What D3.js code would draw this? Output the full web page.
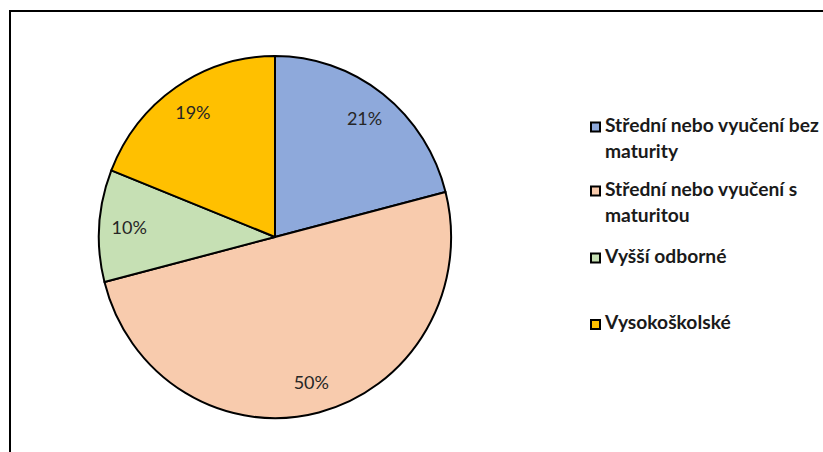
<!DOCTYPE html>
<html>
<head>
<meta charset="utf-8">
<script src="https://cdn.jsdelivr.net/npm/d3@7"></script>
<style>
  html, body { margin: 0; padding: 0; background: #fff; }
  svg { display: block; }
</style>
</head>
<body>
<svg id="chart" width="823" height="452"></svg>
<script>
// Education levels and their shares (%)
const categories = [
  "Střední nebo vyučení bez maturity",
  "Střední nebo vyučení s maturitou",
  "Vyšší odborné",
  "Vysokoškolské"
];
const values = [21, 50, 10, 19];
const legendLines = [
  ["Střední nebo vyučení bez", "maturity"],
  ["Střední nebo vyučení s", "maturitou"],
  ["Vyšší odborné"],
  ["Vysokoškolské"]
];
const colors = ["#8EA9DB", "#F8CBAD", "#C6E0B4", "#FFC000"];

const svg = d3.select("#chart");
const font = "Lato, 'Open Sans', sans-serif";

// Chart frame
svg.append("rect")
  .attr("x", 10).attr("y", 11)
  .attr("width", 830).attr("height", 460)
  .attr("fill", "#fff")
  .attr("stroke", "#000")
  .attr("stroke-width", 2);

// Pie: drawn on a unit radius, then stretched slightly taller than wide
const cx = 275, cy = 237, rx = 176, ry = 181;
const data = categories.map((c, i) => ({ cat: c, value: values[i], color: colors[i] }));

const pie = d3.pie().value(d => d.value).sort(null);
const arc = d3.arc().innerRadius(0).outerRadius(1);
const labelR = 0.83;
const labelArc = d3.arc().innerRadius(labelR).outerRadius(labelR);
const arcs = pie(data);

const g = svg.append("g").attr("transform", `translate(${cx},${cy})`);
g.append("g")
  .attr("transform", `scale(${rx},${ry})`)
  .selectAll("path.slice")
  .data(arcs)
  .join("path")
  .attr("class", "slice")
  .attr("d", arc)
  .attr("fill", d => d.data.color)
  .attr("stroke", "#000")
  .attr("stroke-width", 2)
  .attr("vector-effect", "non-scaling-stroke")
  .attr("stroke-linejoin", "round");

g.selectAll("text.pct")
  .data(arcs)
  .join("text")
  .attr("class", "pct")
  .attr("transform", d => {
    const [x, y] = labelArc.centroid(d);
    return `translate(${x * rx},${y * ry})`;
  })
  .attr("text-anchor", "middle")
  .attr("dy", "0.36em")
  .attr("font-family", font)
  .attr("font-size", 18)
  .attr("fill", "#262626")
  .text(d => d.data.value + "%");

// Legend
const legendX = 590;
const baselines = [131.5, 195.5, 262.5, 329];
const lineH = 26;
const lg = svg.append("g");
data.forEach((d, i) => {
  const item = lg.append("g");
  item.append("rect")
    .attr("x", legendX + 1).attr("y", baselines[i] - 9)
    .attr("width", 9).attr("height", 9)
    .attr("fill", d.color)
    .attr("stroke", "#000")
    .attr("stroke-width", 2);
  legendLines[i].forEach((t, j) => {
    item.append("text")
      .attr("class", "legend-text")
      .attr("x", legendX + 15)
      .attr("y", baselines[i] + j * lineH)
      .attr("font-family", font)
      .attr("font-weight", "bold")
      .attr("font-size", 17)
      .attr("fill", "#1a1a1a")
      .text(t);
  });
});

// Fit the legend font so the longest line spans the space to the right edge
const texts = lg.selectAll("text.legend-text");
const widest = d3.max(texts.nodes(), n => n.getComputedTextLength());
const fitted = 17 * 214 / widest;
texts.attr("font-size", fitted);
</script>
</body>
</html>
